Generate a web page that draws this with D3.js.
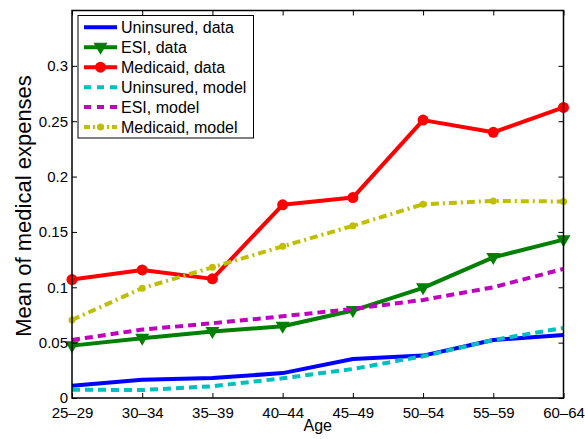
<!DOCTYPE html>
<html>
<head>
<meta charset="utf-8">
<script src="https://cdn.jsdelivr.net/npm/d3@7"></script>
<style>
  body { margin: 0; background: #fff; }
  text { font-family: "Liberation Sans", Arial, sans-serif; fill: #000; }
</style>
</head>
<body>
<div id="myPlot" style="width:585px;height:439px"></div>
<script>
// Age groups along the x axis
const ages = ["25\u201329", "30\u201334", "35\u201339", "40\u201344", "45\u201349", "50\u201354", "55\u201359", "60\u201364"];
const yTicks = [0, 0.05, 0.1, 0.15, 0.2, 0.25, 0.3];

// Series values
const uninsuredData = [0.011, 0.0165, 0.018, 0.0225, 0.0353, 0.0383, 0.0524, 0.057];
const esiData = [0.0473, 0.054, 0.060, 0.0648, 0.079, 0.0995, 0.127, 0.143];
const medicaidData = [0.107, 0.1157, 0.1076, 0.1745, 0.181, 0.251, 0.240, 0.2625];
const uninsuredModel = [0.0075, 0.0072, 0.0106, 0.0178, 0.0262, 0.0377, 0.0524, 0.0633];
const esiModel = [0.0524, 0.0618, 0.0675, 0.0738, 0.0805, 0.0886, 0.100, 0.1166];
const medicaidModel = [0.0705, 0.0992, 0.118, 0.137, 0.1555, 0.175, 0.178, 0.1775];

const series = [
  { name: "Uninsured, data", values: uninsuredData, color: "#0000ff", dash: null, marker: null },
  { name: "ESI, data", values: esiData, color: "#008000", dash: null, marker: "triangle" },
  { name: "Medicaid, data", values: medicaidData, color: "#ff0000", dash: null, marker: "circle" },
  { name: "Uninsured, model", values: uninsuredModel, color: "#00bfbf", dash: "8,5", marker: null },
  { name: "ESI, model", values: esiModel, color: "#bf00bf", dash: "8,5", marker: null },
  { name: "Medicaid, model", values: medicaidModel, color: "#bfbf00", dash: "8,4,2,4", marker: "dot" }
];

const width = 585, height = 439;
const plotLeft = 72, plotRight = 563.5, plotTop = 10.5, plotBottom = 398;

const svg = d3.select("#myPlot").append("svg")
  .attr("width", width)
  .attr("height", height);

const x = d3.scalePoint().domain(ages).range([plotLeft, plotRight]);
const y = d3.scaleLinear().domain([0, 0.35]).range([plotBottom, plotTop]);

// Lines
const line = d3.line()
  .x(function (d, i) { return x(ages[i]); })
  .y(function (d) { return y(d); });

series.forEach(function (s) {
  const g = svg.append("g");
  g.append("path")
    .datum(s.values)
    .attr("d", line)
    .attr("fill", "none")
    .attr("stroke", s.color)
    .attr("stroke-width", 4)
    .attr("stroke-dasharray", s.dash)
    .attr("stroke-linejoin", "round");
  drawMarkers(g, s, s.values.map(function (v, i) { return [x(ages[i]), y(v)]; }));
});

function drawMarkers(g, s, pts) {
  if (s.marker == "circle") {
    g.selectAll("circle").data(pts).enter().append("circle")
      .attr("cx", function (d) { return d[0]; })
      .attr("cy", function (d) { return d[1]; })
      .attr("r", 5.5)
      .style("fill", s.color);
  } else if (s.marker == "dot") {
    g.selectAll("circle").data(pts).enter().append("circle")
      .attr("cx", function (d) { return d[0]; })
      .attr("cy", function (d) { return d[1]; })
      .attr("r", 3.5)
      .style("fill", s.color);
  } else if (s.marker == "triangle") {
    g.selectAll("path.tri").data(pts).enter().append("path")
      .attr("class", "tri")
      .attr("d", function (d) {
        return "M" + (d[0] - 7) + "," + (d[1] - 4.5) + "L" + (d[0] + 7) + "," + (d[1] - 4.5) + "L" + d[0] + "," + (d[1] + 7.5) + "Z";
      })
      .style("fill", s.color);
  }
}

// Axes box with inward ticks on all sides
const axes = svg.append("g");
axes.append("g")
  .attr("transform", "translate(0," + plotBottom + ")")
  .call(d3.axisBottom(x).tickSize(-5).tickPadding(9))
  .call(function (g) { g.select(".domain").remove(); });
axes.append("g")
  .attr("transform", "translate(0," + plotTop + ")")
  .call(d3.axisTop(x).tickSize(-5).tickFormat(""))
  .call(function (g) { g.select(".domain").remove(); });
axes.append("g")
  .attr("transform", "translate(" + plotLeft + ",0)")
  .call(d3.axisLeft(y).tickValues(yTicks).tickSize(-5).tickPadding(4).tickFormat(function (d) { return d3.format("")(d); }))
  .call(function (g) { g.select(".domain").remove(); });
axes.append("g")
  .attr("transform", "translate(" + plotRight + ",0)")
  .call(d3.axisRight(y).tickValues(yTicks).tickSize(-5).tickFormat(""))
  .call(function (g) { g.select(".domain").remove(); });
axes.selectAll(".tick line").attr("stroke", "#000");
axes.selectAll(".tick text").style("font-size", "15px");
axes.append("rect")
  .attr("x", plotLeft).attr("y", plotTop)
  .attr("width", plotRight - plotLeft).attr("height", plotBottom - plotTop)
  .attr("fill", "none").attr("stroke", "#000").attr("stroke-width", 1.5);

// Axis labels
svg.append("text")
  .attr("x", (plotLeft + plotRight) / 2).attr("y", 431)
  .attr("text-anchor", "middle")
  .style("font-size", "16px")
  .text("Age");
svg.append("text")
  .attr("transform", "translate(31,206) rotate(-90)")
  .attr("text-anchor", "middle")
  .style("font-size", "22px")
  .text("Mean of medical expenses");

// Legend
const legend = svg.append("g");
legend.append("rect")
  .attr("x", 78).attr("y", 15.5).attr("width", 175.5).attr("height", 122.5)
  .attr("fill", "#fff").attr("stroke", "#000").attr("stroke-width", 1);
series.forEach(function (s, i) {
  const ly = 27.3 + i * 19.95;
  const g = legend.append("g");
  g.append("line")
    .attr("x1", 84).attr("x2", 117).attr("y1", ly).attr("y2", ly)
    .attr("stroke", s.color).attr("stroke-width", 4)
    .attr("stroke-dasharray", s.dash ? (s.marker == "dot" ? "6,3,2,3" : "7,6") : null);
  drawMarkers(g, s, [[100.5, ly]]);
  g.append("text")
    .attr("x", 121).attr("y", ly + 6)
    .style("font-size", "16px")
    .text(s.name);
});
</script>
</body>
</html>
